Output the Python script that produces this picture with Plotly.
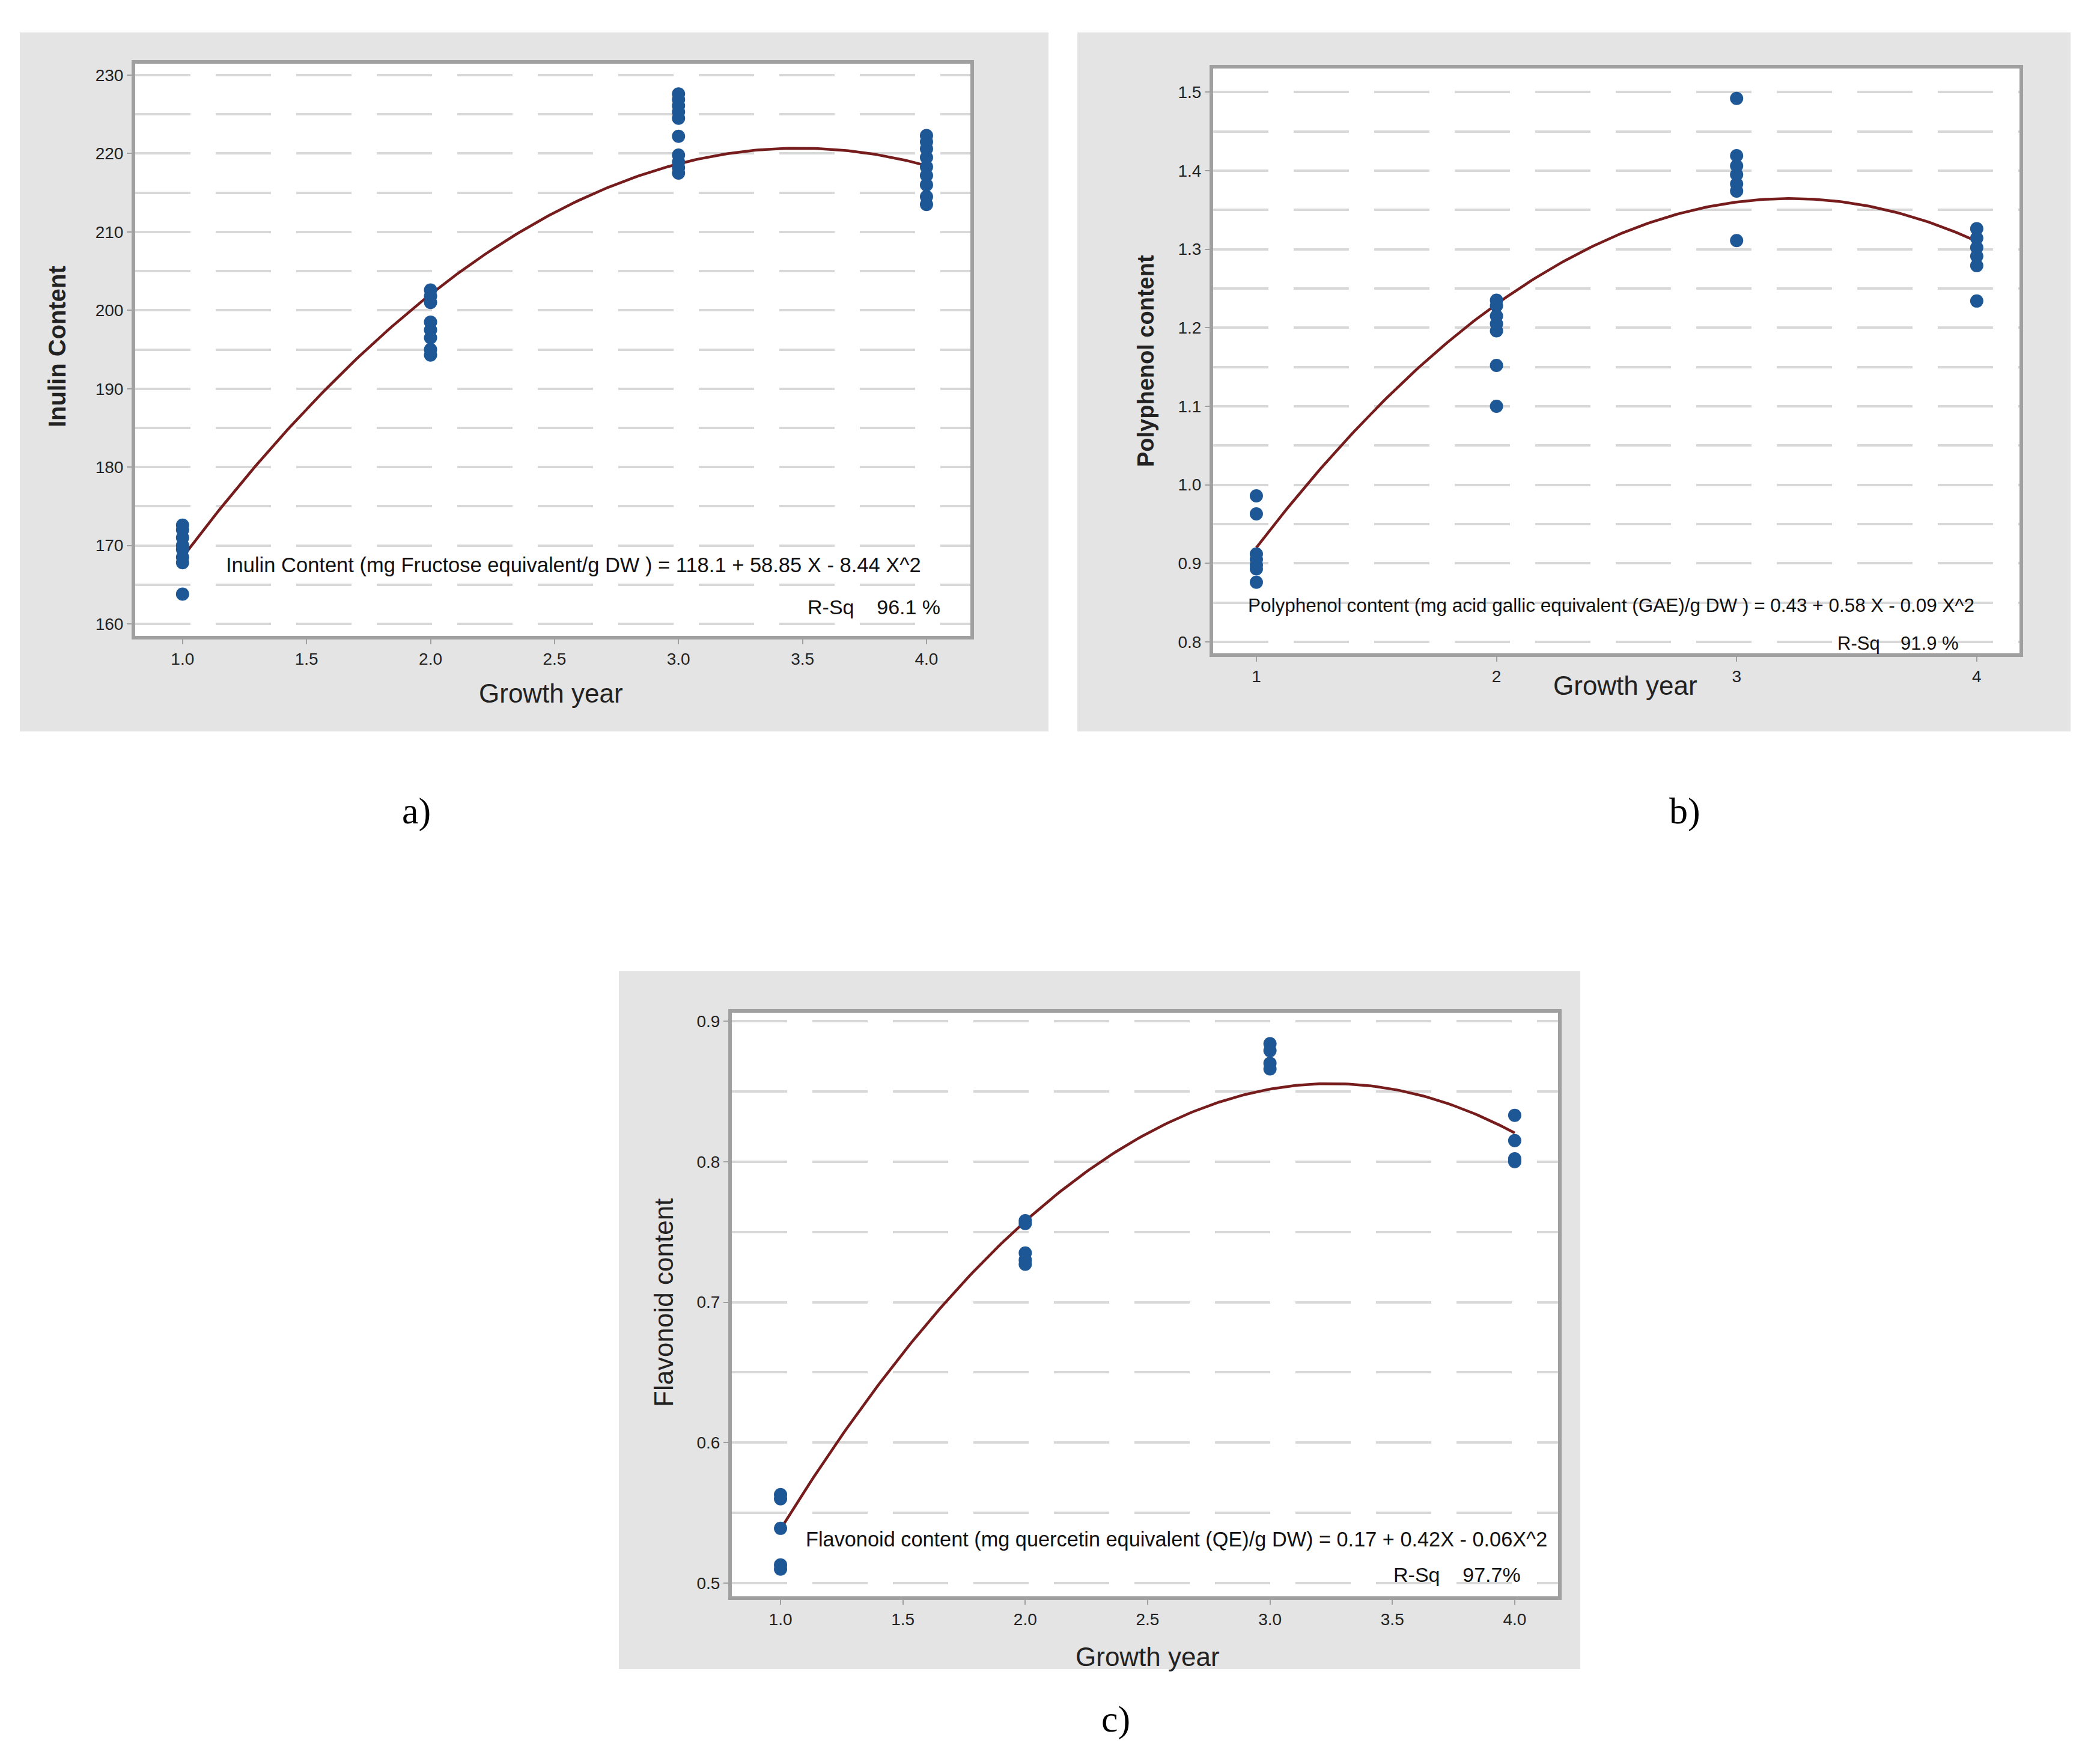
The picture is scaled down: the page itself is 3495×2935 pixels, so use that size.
import numpy as np
import plotly.graph_objects as go

W, H = 3495, 2935

# ---------------- data ----------------
inulin_year = [1]*8 + [2]*8 + [3]*10 + [4]*9
inulin_val = [172.6, 172.0, 171.0, 170.0, 169.5, 168.5, 167.8, 163.8,
              202.6, 201.8, 201.0, 198.5, 197.5, 196.5, 195.0, 194.3,
              227.6, 226.9, 226.1, 225.3, 224.5, 222.2, 219.8, 218.9, 218.2, 217.5,
              222.3, 221.5, 220.6, 219.5, 218.3, 217.2, 216.0, 214.5, 213.5]
inulin_fit = [118.1, 58.85, -8.44]

poly_year = [1]*7 + [2]*7 + [3]*7 + [4]*6
poly_val = [0.986, 0.963, 0.912, 0.905, 0.898, 0.893, 0.876,
            1.235, 1.228, 1.215, 1.205, 1.196, 1.152, 1.100,
            1.492, 1.419, 1.406, 1.395, 1.383, 1.374, 1.311,
            1.326, 1.314, 1.302, 1.291, 1.279, 1.234]
poly_fit = [0.43, 0.58, -0.09]

flav_year = [1]*5 + [2]*5 + [3]*4 + [4]*4
flav_val = [0.563, 0.560, 0.539, 0.513, 0.510,
            0.758, 0.756, 0.735, 0.730, 0.727,
            0.884, 0.879, 0.870, 0.866,
            0.833, 0.815, 0.802, 0.800]
flav_fit = [0.194, 0.407, -0.0626]

x_ticks_a = [1.0, 1.5, 2.0, 2.5, 3.0, 3.5, 4.0]
x_ticks_b = [1, 2, 3, 4]
x_ticks_c = [1.0, 1.5, 2.0, 2.5, 3.0, 3.5, 4.0]

eq_a = "Inulin Content (mg Fructose equivalent/g DW ) = 118.1 + 58.85 X - 8.44 X^2"
eq_b = "Polyphenol content (mg acid gallic equivalent (GAE)/g DW ) = 0.43 + 0.58 X - 0.09 X^2"
eq_c = "Flavonoid content (mg quercetin equivalent (QE)/g DW) = 0.17 + 0.42X - 0.06X^2"
rsq_a = "R-Sq\u00a0\u00a0\u00a0\u00a096.1 %"
rsq_b = "R-Sq\u00a0\u00a0\u00a0\u00a091.9 %"
rsq_c = "R-Sq\u00a0\u00a0\u00a0\u00a097.7%"

# ---------------- layout helpers ----------------
def px(x):
    return x / W

def py(y):
    return 1 - y / H

MARKER = "#1d5796"
LINE = "#761c1c"
GRID = "#d8d8d8"
FRAME = "#a0a0a0"
FONT = "Liberation Sans"

panels = [
    dict(plot=(225, 106, 1615, 1058), bg=(33, 54, 1745, 1217),
         xr=[0.809, 4.177], yr=[158.47, 231.46], dt=10, t0=160, mdt=5,
         xt=x_ticks_a, xfmt="{:.1f}", yfmt="{:.0f}",
         xs=inulin_year, ys=inulin_val, fit=inulin_fit),
    dict(plot=(2019, 114, 3361, 1087), bg=(1793, 54, 3446, 1217),
         xr=[0.82, 4.178], yr=[0.7855, 1.53], dt=0.1, t0=0.8, mdt=0.05,
         xt=x_ticks_b, xfmt="{:.0f}", yfmt="{:.1f}",
         xs=poly_year, ys=poly_val, fit=poly_fit),
    dict(plot=(1218, 1685, 2593, 2656), bg=(1030, 1616, 2630, 2777),
         xr=[0.801, 4.177], yr=[0.4906, 0.906], dt=0.1, t0=0.5, mdt=0.05,
         xt=x_ticks_c, xfmt="{:.1f}", yfmt="{:.1f}",
         xs=flav_year, ys=flav_val, fit=flav_fit),
]

fig = go.Figure()
shapes = []
layout_axes = {}

for i, p in enumerate(panels):
    n = "" if i == 0 else str(i + 1)
    l, t, r, b = p["plot"]
    bl, bt, br, bb = p["bg"]
    shapes.append(dict(type="rect", xref="paper", yref="paper", layer="below",
                       x0=px(bl), x1=px(br), y0=py(bb), y1=py(bt),
                       fillcolor="#e4e4e4", line=dict(width=0)))
    shapes.append(dict(type="rect", xref="paper", yref="paper", layer="below",
                       x0=px(l), x1=px(r), y0=py(b), y1=py(t),
                       fillcolor="white", line=dict(width=0)))

    xs = np.linspace(1, 4, 200)
    a0, a1, a2 = p["fit"]
    fig.add_trace(go.Scatter(x=xs, y=a0 + a1 * xs + a2 * xs**2, mode="lines",
                             line=dict(color=LINE, width=4.5),
                             xaxis="x" + n, yaxis="y" + n, showlegend=False))
    fig.add_trace(go.Scatter(x=p["xs"], y=p["ys"], mode="markers",
                             marker=dict(color=MARKER, size=22, line=dict(width=0)),
                             xaxis="x" + n, yaxis="y" + n, showlegend=False))

    yt = []
    v = p["t0"]
    while v <= p["yr"][1] + 1e-9:
        yt.append(round(v, 6))
        v += p["dt"]

    layout_axes["xaxis" + n] = dict(
        domain=[px(l), px(r)], range=p["xr"], anchor="y" + n,
        tickvals=p["xt"], ticktext=[p["xfmt"].format(x) for x in p["xt"]],
        showgrid=False, zeroline=False, showline=True, mirror=True,
        linecolor=FRAME, linewidth=6, ticks="outside", ticklen=8,
        tickcolor=FRAME, tickwidth=2,
        tickfont=dict(family=FONT, size=28, color="#222"))
    layout_axes["yaxis" + n] = dict(
        domain=[py(b), py(t)], range=p["yr"], anchor="x" + n,
        tickvals=yt, ticktext=[p["yfmt"].format(y) for y in yt],
        showgrid=True, gridcolor=GRID, gridwidth=4, griddash="92px,42px",
        minor=dict(dtick=p["mdt"], tick0=p["t0"], showgrid=True, gridcolor=GRID,
                   gridwidth=4, griddash="92px,42px", ticks=""),
        zeroline=False, showline=True, mirror=True,
        linecolor=FRAME, linewidth=6, ticks="outside", ticklen=8,
        tickcolor=FRAME, tickwidth=2,
        tickfont=dict(family=FONT, size=28, color="#222"))

ann = []

def text(x, y, s, size, xanchor="center", angle=0, family=FONT, color="#222", bold=False):
    if bold:
        s = "<b>" + s + "</b>"
    ann.append(dict(x=px(x), y=py(y), xref="paper", yref="paper", text=s,
                    showarrow=False, xanchor=xanchor, yanchor="middle",
                    textangle=angle, font=dict(family=family, size=size, color=color)))

# axis titles
text(917, 1153, "Growth year", 44)
text(2705, 1141, "Growth year", 44)
text(1910, 2756, "Growth year", 44)
text(95, 577, "Inulin Content", 40, angle=-90, bold=True)
text(1907, 601, "Polyphenol content", 38, angle=-90, bold=True)
text(1104, 2168, "Flavonoid content", 44, angle=-90)

# equations
NARROW = "Liberation Sans Narrow, Liberation Sans"
text(374, 940, eq_a, 34.5, xanchor="left", family=NARROW, color="#111")
text(1567, 1010, rsq_a, 34, xanchor="right", family=NARROW, color="#111")
text(2075, 1007, eq_b, 31.5, xanchor="left", family=NARROW, color="#111")
text(3262, 1070, rsq_b, 31, xanchor="right", family=NARROW, color="#111")
text(1339, 2561, eq_c, 34.3, xanchor="left", family=NARROW, color="#111")
text(2533, 2620, rsq_c, 34, xanchor="right", family=NARROW, color="#111")

# panel labels
text(693, 1349, "a)", 62, family="Liberation Serif", color="#000")
text(2804, 1349, "b)", 62, family="Liberation Serif", color="#000")
text(1857, 2860, "c)", 62, family="Liberation Serif", color="#000")

fig.update_layout(width=W, height=H, autosize=False,
                  margin=dict(l=0, r=0, t=0, b=0),
                  paper_bgcolor="white", plot_bgcolor="white",
                  shapes=shapes, annotations=ann, **layout_axes)

fig.write_html("out.html")
